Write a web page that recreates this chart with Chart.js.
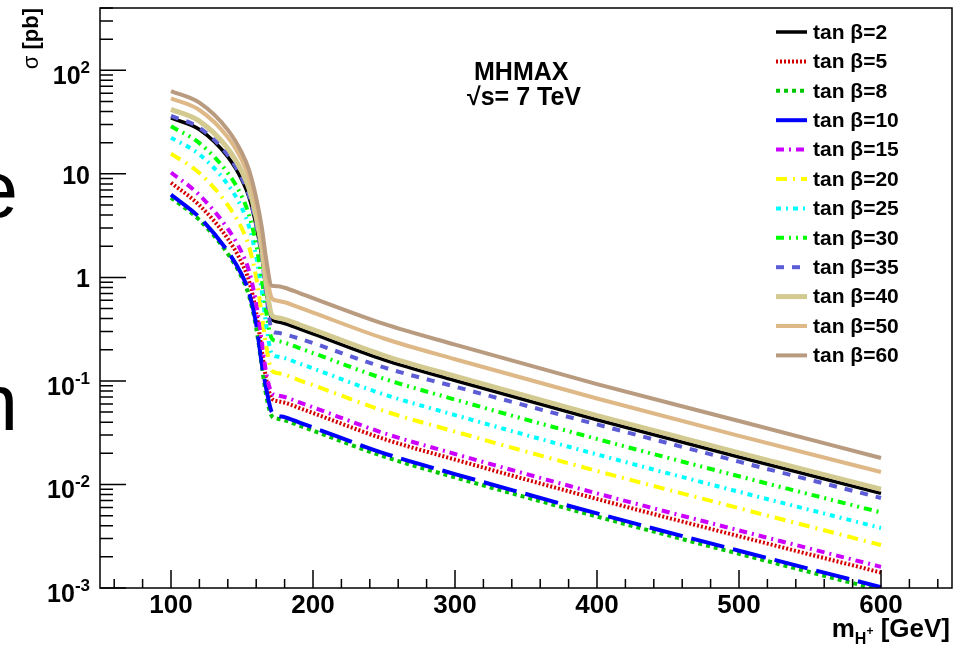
<!DOCTYPE html>
<html>
<head>
<meta charset="utf-8">
<script src="https://cdn.jsdelivr.net/npm/chart.js@4.4.1/dist/chart.umd.min.js"></script>
<style>
  html, body { margin: 0; padding: 0; background: #fff; }
  canvas { display: block; }
</style>
</head>
<body>
<canvas id="xsec" width="953" height="649"></canvas>
<script>
// charged Higgs mass points (GeV)
const massGeV = [100, 120, 140, 150, 155, 160, 164, 167, 171, 175, 180, 190, 200, 250, 300, 400, 500, 600];

// cross sections in pb, one list per tan(beta)
const tanb2  = [34.7, 26.8, 14.6, 8.7, 5.92, 3.15, 1.58, 0.75, 0.394, 0.372, 0.359, 0.320, 0.285, 0.160, 0.101, 0.0422, 0.0184, 0.0082];
const tanb5  = [8.2, 4.98, 2.36, 1.37, 0.92, 0.458, 0.195, 0.105, 0.0676, 0.0638, 0.0617, 0.055, 0.049, 0.0275, 0.0174, 0.00724, 0.00316, 0.00141];
const tanb8  = [5.9, 3.58, 1.69, 0.99, 0.66, 0.326, 0.137, 0.073, 0.0457, 0.0431, 0.0417, 0.0372, 0.0331, 0.0186, 0.0117, 0.0049, 0.00214, 0.00095];
const tanb10 = [6.3, 3.8, 1.78, 1.05, 0.71, 0.355, 0.145, 0.085, 0.050, 0.0462, 0.0447, 0.0398, 0.0355, 0.020, 0.0126, 0.00525, 0.00229, 0.00102];
const tanb15 = [10.3, 6.25, 2.95, 1.72, 1.15, 0.56, 0.237, 0.12, 0.0767, 0.0724, 0.070, 0.0624, 0.0556, 0.0313, 0.0197, 0.0082, 0.0036, 0.0016];
const tanb20 = [15.7, 10.2, 4.99, 2.95, 1.97, 1.0, 0.43, 0.22, 0.126, 0.119, 0.115, 0.102, 0.0912, 0.0513, 0.0324, 0.0135, 0.0059, 0.0026];
const tanb25 = [22.4, 15.4, 7.9, 4.65, 3.08, 1.6, 0.73, 0.35, 0.182, 0.172, 0.166, 0.148, 0.132, 0.0741, 0.0468, 0.0195, 0.0085, 0.0038];
const tanb30 = [28.8, 19.8, 10.2, 6.0, 3.98, 2.08, 0.96, 0.47, 0.257, 0.243, 0.234, 0.209, 0.186, 0.105, 0.0661, 0.0275, 0.0120, 0.00537];
const tanb35 = [36.3, 27.9, 15.2, 9.0, 6.1, 3.2, 1.57, 0.70, 0.309, 0.292, 0.282, 0.257, 0.232, 0.135, 0.0881, 0.038, 0.0166, 0.0074];
const tanb40 = [42, 32.3, 17.6, 10.5, 7.13, 3.77, 1.88, 0.87, 0.431, 0.407, 0.394, 0.351, 0.313, 0.176, 0.111, 0.0462, 0.0202, 0.0090];
const tanb50 = [53.7, 41.4, 22.6, 13.5, 9.19, 4.9, 2.48, 1.19, 0.63, 0.596, 0.575, 0.513, 0.457, 0.257, 0.162, 0.0676, 0.0295, 0.0132];
const tanb60 = [63, 48.7, 26.6, 15.9, 10.9, 5.86, 3.02, 1.51, 0.83, 0.822, 0.794, 0.71, 0.63, 0.355, 0.224, 0.093, 0.041, 0.018];

const tanbValues = ['2', '5', '8', '10', '15', '20', '25', '30', '35', '40', '50', '60'];
const seriesValues = [tanb2, tanb5, tanb8, tanb10, tanb15, tanb20, tanb25, tanb30, tanb35, tanb40, tanb50, tanb60];

const xTickValues = [100, 200, 300, 400, 500, 600];
const yTickValues = [0.001, 0.01, 0.1, 1, 10, 100];
const yTickLabels = [['10', '-3'], ['10', '-2'], ['10', '-1'], ['1', ''], ['10', ''], ['10', '2']];

// line looks, same order as the series
const lineStyles = [
  { color: '#000000', width: 3.5, dash: [] },
  { color: '#d40000', width: 4, dash: [2, 2] },
  { color: '#00c800', width: 4, dash: [4, 4] },
  { color: '#0000ff', width: 4, dash: [34, 9] },
  { color: '#cc00ff', width: 4, dash: [8, 5, 2, 5] },
  { color: '#ffff00', width: 4, dash: [11, 6, 2, 6] },
  { color: '#00ffff', width: 4, dash: [5, 5, 2, 5] },
  { color: '#00ff00', width: 4, dash: [8, 5, 2, 5, 2, 5] },
  { color: '#5c5cd6', width: 4, dash: [8, 8] },
  { color: '#d2ca90', width: 5, dash: [] },
  { color: '#deb887', width: 4, dash: [] },
  { color: '#b99b80', width: 4, dash: [] }
];

const FONT = '"Liberation Sans", Arial, Helvetica, sans-serif';

const datasets = seriesValues.map((vals, i) => ({
  label: 'tan β=' + tanbValues[i],
  data: massGeV.map((m, k) => ({ x: m, y: vals[k] })),
  borderColor: lineStyles[i].color,
  borderWidth: lineStyles[i].width,
  borderDash: lineStyles[i].dash,
  pointRadius: 0,
  fill: false,
  cubicInterpolationMode: 'monotone',
  order: seriesValues.length - i   // later series on top, like ROOT
}));

// frame, inward ticks, labels, legend and texts in ROOT style
const rootStyle = {
  id: 'rootStyle',
  beforeDraw(chart) {
    const ctx = chart.ctx;
    ctx.save();
    ctx.fillStyle = '#fff';
    ctx.fillRect(0, 0, chart.width, chart.height);
    // bits of the slide text behind the plot
    ctx.fillStyle = '#000';
    ctx.font = '80px ' + FONT;
    ctx.textAlign = 'right';
    ctx.textBaseline = 'alphabetic';
    ctx.fillText('e', 18, 217);
    ctx.fillText('n', 18, 430);
    ctx.restore();
  },
  afterDraw(chart) {
    const { ctx, chartArea: a, scales: { x, y } } = chart;
    ctx.save();
    ctx.strokeStyle = '#000';
    ctx.fillStyle = '#000';
    ctx.lineWidth = 1.5;
    ctx.setLineDash([]);
    ctx.strokeRect(a.left, a.top, a.right - a.left, a.bottom - a.top);

    // x ticks, every 20 GeV
    ctx.beginPath();
    for (let v = 60; v <= 640; v += 20) {
      const px = x.getPixelForValue(v);
      const len = v % 100 === 0 ? 18 : 9;
      ctx.moveTo(px, a.bottom);
      ctx.lineTo(px, a.bottom - len);
    }
    // y ticks, 1..9 per decade
    for (let e = -3; e <= 2; e++) {
      for (let k = 1; k <= 9; k++) {
        const v = k * Math.pow(10, e);
        if (v > y.max) break;
        const py = y.getPixelForValue(v);
        ctx.moveTo(a.left, py);
        ctx.lineTo(a.left + (k === 1 ? 26 : 13), py);
      }
    }
    ctx.stroke();

    // y labels with exponents
    ctx.textAlign = 'right';
    ctx.textBaseline = 'alphabetic';
    yTickValues.forEach((v, i) => {
      const py = y.getPixelForValue(v);
      const [base, sup] = yTickLabels[i];
      const right = 90;
      if (sup) {
        ctx.font = 'bold 17px ' + FONT;
        const w = ctx.measureText(sup).width;
        ctx.fillText(sup, right, py + 3);
        ctx.font = 'bold 25px ' + FONT;
        ctx.fillText(base, right - w, py + 14);
      } else {
        ctx.font = 'bold 25px ' + FONT;
        ctx.fillText(base, right, py + 10);
      }
    });

    // y title, reading upward, ending at the top
    ctx.save();
    ctx.translate(32, a.top);
    ctx.rotate(-Math.PI / 2);
    ctx.textBaseline = 'middle';
    ctx.textAlign = 'right';
    ctx.font = 'bold 22px ' + FONT;
    ctx.fillText(' [pb]', 0, 0);
    const pbW = ctx.measureText(' [pb]').width;
    ctx.font = '22px ' + FONT;
    ctx.fillText('σ', -pbW, 0);
    ctx.restore();

    // x title m_{H+} [GeV], right aligned
    const parts = [
      { t: 'm', f: 'bold 26px ', dy: 0 },
      { t: 'H', f: 'bold 16px ', dy: 7 },
      { t: '+', f: 'bold 12px ', dy: -2 },
      { t: ' [GeV]', f: 'bold 26px ', dy: 0 }
    ];
    let total = 0;
    parts.forEach(p => { ctx.font = p.f + FONT; p.w = ctx.measureText(p.t).width; total += p.w; });
    let cx = 950 - total;
    ctx.textAlign = 'left';
    parts.forEach(p => { ctx.font = p.f + FONT; ctx.fillText(p.t, cx, 637 + p.dy); cx += p.w; });

    // model text
    ctx.font = 'bold 25px ' + FONT;
    ctx.fillText('MHMAX', 474, 80);
    ctx.fillText('√s= 7 TeV', 467, 105);

    // legend
    const lx0 = 776, lx1 = 807, tx = 813, ly0 = 32, dy = 29.4;
    chart.data.datasets.forEach((ds, i) => {
      const ly = ly0 + i * dy;
      ctx.strokeStyle = ds.borderColor;
      ctx.lineWidth = ds.borderWidth;
      ctx.setLineDash(ds.borderDash);
      ctx.beginPath();
      ctx.moveTo(lx0, ly);
      ctx.lineTo(lx1, ly);
      ctx.stroke();
      ctx.setLineDash([]);
      ctx.textBaseline = 'middle';
      ctx.font = 'bold 21px ' + FONT;
      ctx.fillText(ds.label, tx, ly + 1);
    });
    ctx.restore();
  }
};

new Chart(document.getElementById('xsec'), {
  type: 'line',
  data: { datasets: datasets },
  options: {
    responsive: false,
    devicePixelRatio: 1,
    animation: false,
    layout: { padding: { top: 8, right: 1, left: 0, bottom: 0 } },
    plugins: {
      legend: { display: false },
      tooltip: { enabled: false }
    },
    scales: {
      x: {
        type: 'linear',
        min: 50,
        max: 650,
        afterBuildTicks: s => { s.ticks = xTickValues.map(v => ({ value: v })); },
        afterFit: s => { s.height = 61; },
        grid: { display: false, drawTicks: false },
        border: { display: false },
        ticks: {
          color: '#000',
          font: { family: FONT, size: 26, weight: 'bold' },
          padding: 2,
          maxRotation: 0,
          autoSkip: false
        }
      },
      y: {
        type: 'logarithmic',
        min: 0.001,
        max: 400,
        afterBuildTicks: s => { s.ticks = yTickValues.map(v => ({ value: v })); },
        afterFit: s => { s.width = 100; },
        grid: { display: false, drawTicks: false },
        border: { display: false },
        ticks: { display: false }
      }
    }
  },
  plugins: [rootStyle]
});
</script>
</body>
</html>
